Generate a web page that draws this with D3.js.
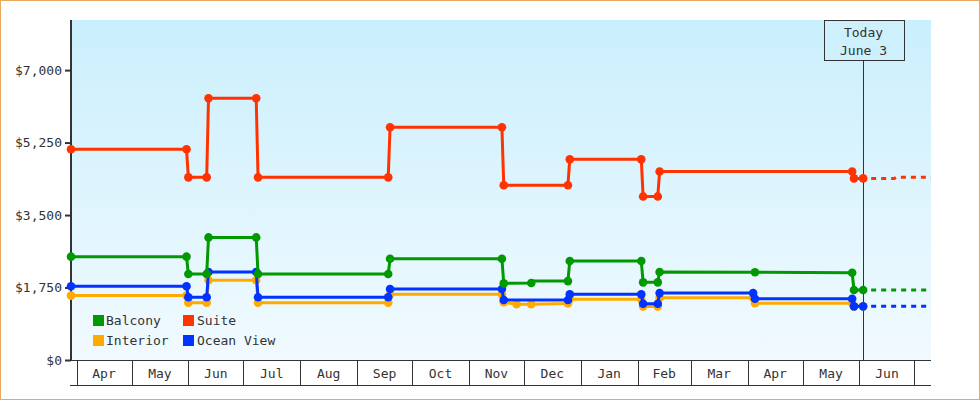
<!DOCTYPE html>
<html>
<head>
<meta charset="utf-8">
<script src="https://cdn.jsdelivr.net/npm/d3@7"></script>
<style>
  body { margin: 0; background: #fff; }
  svg text { font-family: "DejaVu Sans Mono", monospace; font-size: 13px; fill: #333; }
</style>
</head>
<body>
<svg id="chart" width="980" height="400"></svg>
<script>
// price history, [date, price]
var balconyPts = [
  ["2023-03-29", 2495], ["2023-05-31", 2495], ["2023-06-01", 2075], ["2023-06-11", 2075],
  ["2023-06-12", 2960], ["2023-07-08", 2960], ["2023-07-09", 2075], ["2023-09-18", 2075],
  ["2023-09-19", 2445], ["2023-11-19", 2445], ["2023-11-20", 1850], ["2023-12-05", 1860],
  ["2023-12-06", 1905], ["2023-12-25", 1905], ["2023-12-26", 2390], ["2024-02-03", 2390],
  ["2024-02-04", 1875], ["2024-02-12", 1875], ["2024-02-13", 2125], ["2024-04-05", 2120],
  ["2024-05-28", 2105], ["2024-05-29", 1690], ["2024-06-03", 1690]
];
var suitePts = [
  ["2023-03-29", 5090], ["2023-05-31", 5090], ["2023-06-01", 4410], ["2023-06-11", 4410],
  ["2023-06-12", 6320], ["2023-07-08", 6320], ["2023-07-09", 4410], ["2023-09-18", 4410],
  ["2023-09-19", 5620], ["2023-11-19", 5620], ["2023-11-20", 4220], ["2023-12-25", 4220],
  ["2023-12-26", 4845], ["2024-02-03", 4845], ["2024-02-04", 3950], ["2024-02-12", 3950],
  ["2024-02-13", 4550], ["2024-05-28", 4550], ["2024-05-29", 4385], ["2024-06-03", 4385]
];
var interiorPts = [
  ["2023-03-29", 1555], ["2023-05-31", 1555], ["2023-06-01", 1385], ["2023-06-11", 1385],
  ["2023-06-12", 1925], ["2023-07-08", 1925], ["2023-07-09", 1385], ["2023-09-18", 1385],
  ["2023-09-19", 1585], ["2023-11-19", 1585], ["2023-11-20", 1395], ["2023-11-27", 1345],
  ["2023-12-05", 1345], ["2023-12-25", 1365], ["2023-12-26", 1465], ["2024-02-03", 1465],
  ["2024-02-04", 1290], ["2024-02-12", 1290], ["2024-02-13", 1505], ["2024-04-04", 1505],
  ["2024-04-05", 1370], ["2024-05-28", 1370], ["2024-05-29", 1295], ["2024-06-03", 1295]
];
var oceanPts = [
  ["2023-03-29", 1780], ["2023-05-31", 1780], ["2023-06-01", 1515], ["2023-06-11", 1515],
  ["2023-06-12", 2125], ["2023-07-08", 2125], ["2023-07-09", 1515], ["2023-09-18", 1515],
  ["2023-09-19", 1715], ["2023-11-19", 1715], ["2023-11-20", 1450], ["2023-12-25", 1450],
  ["2023-12-26", 1585], ["2024-02-03", 1585], ["2024-02-04", 1360], ["2024-02-12", 1360],
  ["2024-02-13", 1615], ["2024-04-04", 1615], ["2024-04-05", 1480], ["2024-05-28", 1480],
  ["2024-05-29", 1295], ["2024-06-03", 1295]
];
// projection after today (dotted)
var balconyProj = [["2024-06-03", 1690], ["2024-07-10", 1690]];
var suiteProj = [["2024-06-03", 4385], ["2024-06-20", 4385], ["2024-06-21", 4410], ["2024-07-10", 4410]];
var oceanProj = [["2024-06-03", 1295], ["2024-07-10", 1295]];

var monthLabels = ["Apr", "May", "Jun", "Jul", "Aug", "Sep", "Oct", "Nov", "Dec", "Jan", "Feb", "Mar", "Apr", "May", "Jun"];
var yTicks = [0, 1750, 3500, 5250, 7000];
var todayDate = "2024-06-03";
var todayLabel = ["Today", "June 3"];

var parse = d3.timeParse("%Y-%m-%d");
var svg = d3.select("#chart");
var pLeft = 71, pRight = 931, pTop = 20, pBottom = 360;

var x = d3.scaleTime()
  .domain([parse("2023-03-29"), parse("2024-07-10")])
  .range([pLeft, pRight]);
var y = d3.scaleLinear().domain([0, 8210]).range([pBottom, pTop]);

// outer border
svg.append("rect")
  .attr("x", 0.5).attr("y", 0.5).attr("width", 979).attr("height", 399)
  .attr("fill", "#fff").attr("stroke", "#e9a760");

// plot background gradient
var grad = svg.append("defs").append("linearGradient")
  .attr("id", "bg").attr("x1", 0).attr("y1", 0).attr("x2", 0).attr("y2", 1);
grad.append("stop").attr("offset", "0%").attr("stop-color", "#caeffc");
grad.append("stop").attr("offset", "100%").attr("stop-color", "#f1faff");
svg.append("rect")
  .attr("x", pLeft).attr("y", pTop).attr("width", pRight - pLeft).attr("height", pBottom - pTop)
  .attr("fill", "url(#bg)");

// month boxes on the x axis
var months = d3.timeMonths(parse("2023-04-01"), parse("2024-07-02"));
var xg = svg.append("g");
xg.append("line").attr("x1", pLeft).attr("x2", pRight).attr("y1", 360.5).attr("y2", 360.5)
  .attr("stroke", "#333");
xg.append("line").attr("x1", pLeft - 1).attr("x2", pRight).attr("y1", 385.5).attr("y2", 385.5)
  .attr("stroke", "#333");
xg.selectAll(".div")
  .data(months)
  .enter()
  .append("line")
  .attr("x1", (d) => Math.round(x(d)) + 0.5)
  .attr("x2", (d) => Math.round(x(d)) + 0.5)
  .attr("y1", 360).attr("y2", 386)
  .attr("stroke", "#333");
xg.selectAll(".mlab")
  .data(monthLabels)
  .enter()
  .append("text")
  .attr("x", (d, i) => (x(months[i]) + x(months[i + 1])) / 2)
  .attr("y", 378)
  .attr("text-anchor", "middle")
  .text((d) => d);

// y axis
var yAxis = d3.axisLeft(y)
  .tickValues(yTicks)
  .tickSize(6)
  .tickPadding(3)
  .tickFormat(d3.format("$,.0f"));
var yg = svg.append("g").attr("transform", "translate(" + pLeft + ",0)").call(yAxis);
yg.select(".domain").remove();
yg.selectAll(".tick line").attr("stroke", "#333").attr("stroke-width", 2);
yg.selectAll(".tick text").style("font-family", "DejaVu Sans Mono").style("font-size", "13px").attr("fill", "#333");
svg.append("line").attr("x1", pLeft).attr("x2", pLeft).attr("y1", pTop).attr("y2", 361)
  .attr("stroke", "#333").attr("stroke-width", 2);

// today marker
var tx = Math.round(x(parse(todayDate))) + 0.5;
svg.append("line").attr("x1", tx).attr("x2", tx).attr("y1", 60).attr("y2", 360)
  .attr("stroke", "#333");
svg.append("rect").attr("x", 824.5).attr("y", 20.5).attr("width", 80).attr("height", 40)
  .attr("fill", "#cdf0fc").attr("stroke", "#333");
svg.selectAll(".today")
  .data(todayLabel)
  .enter()
  .append("text")
  .attr("x", tx)
  .attr("y", (d, i) => 37 + i * 17.5)
  .attr("text-anchor", "middle")
  .text((d) => d);

var series = [
  { name: "Interior", color: "#ffaa00", pts: interiorPts, proj: null },
  { name: "Ocean View", color: "#0033ff", pts: oceanPts, proj: oceanProj },
  { name: "Balcony", color: "#009900", pts: balconyPts, proj: balconyProj },
  { name: "Suite", color: "#ff3300", pts: suitePts, proj: suiteProj }
];

var line = d3.line()
  .x((d) => x(parse(d[0])))
  .y((d) => y(d[1]));

series.forEach(function (s) {
  var g = svg.append("g");
  if (s.proj) {
    g.append("path")
      .attr("d", line(s.proj))
      .attr("fill", "none")
      .attr("stroke", s.color)
      .attr("stroke-width", 3)
      .attr("stroke-dasharray", "5,5")
      .attr("stroke-dashoffset", -8);
  }
  g.append("path")
    .attr("d", line(s.pts))
    .attr("fill", "none")
    .attr("stroke", s.color)
    .attr("stroke-width", 3)
    .attr("stroke-linejoin", "round");
  // markers only on real price points (skip the flat filler ones)
  g.selectAll("circle")
    .data(s.pts.filter((d) => d[0] != "2023-12-06"))
    .enter()
    .append("circle")
    .attr("cx", (d) => x(parse(d[0])))
    .attr("cy", (d) => y(d[1]))
    .attr("r", 4.3)
    .attr("fill", s.color);
});

// legend
var legend = [
  { name: "Balcony", color: "#009900", col: 0, row: 0 },
  { name: "Suite", color: "#ff3300", col: 1, row: 0 },
  { name: "Interior", color: "#ffaa00", col: 0, row: 1 },
  { name: "Ocean View", color: "#0033ff", col: 1, row: 1 }
];
var lg = svg.append("g");
lg.selectAll("rect")
  .data(legend)
  .enter()
  .append("rect")
  .attr("x", (d) => 93 + d.col * 90)
  .attr("y", (d) => 315 + d.row * 20)
  .attr("width", 11).attr("height", 11)
  .attr("fill", (d) => d.color);
lg.selectAll("text")
  .data(legend)
  .enter()
  .append("text")
  .attr("x", (d) => 106 + d.col * 91)
  .attr("y", (d) => 325 + d.row * 20)
  .text((d) => d.name);
</script>
</body>
</html>
